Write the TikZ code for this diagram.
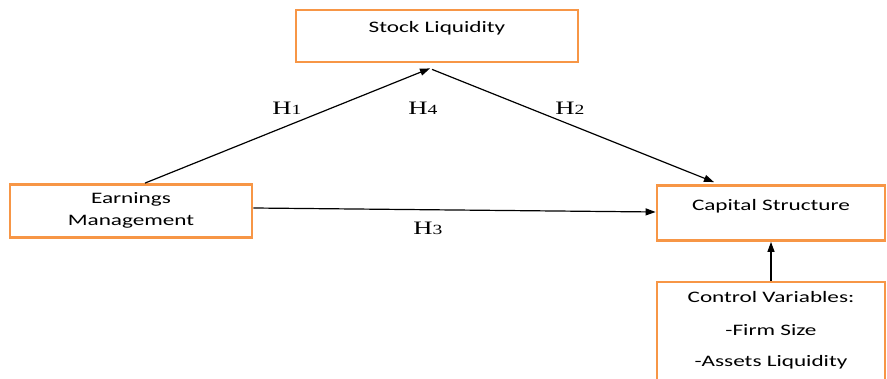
\documentclass[tikz,border=0pt]{standalone}
\usepackage{fontspec}
\setmainfont{Carlito}
\newfontfamily\hfont{Liberation Serif}
\usetikzlibrary{arrows.meta,calc}
\definecolor{boxorange}{RGB}{247,150,70}
\tikzset{
  box/.style={draw=boxorange, line width=2.8pt, rectangle, inner sep=0pt},
  boxtext/.style={font=\fontsize{16}{19}\selectfont, align=center, inner sep=0pt, xscale=1.45},
  conn/.style={line width=1.2pt, -{Triangle[length=10pt,width=7pt]}},
  hlabel/.style={font=\hfont\fontsize{19}{20}\selectfont, inner sep=0pt, xscale=1.4}
}
\newcommand{\hyp}[1]{H{\fontsize{14}{15}\selectfont #1}}
\begin{document}
\begin{tikzpicture}[x=1pt,y=-1pt]
\useasboundingbox (0,0) rectangle (887,379);
% boxes
\node[box, minimum width=282pt, minimum height=52pt] (sl) at (437,36) {};
\node[boxtext] (slt) at (437,28) {Stock Liquidity};
\node[box, minimum width=242pt, minimum height=53pt] (em) at (131,211) {};
\node[boxtext] (emt) at (131,199) {Earnings};
\node[boxtext] (emt2) at (131,222) {Management};
\node[box, minimum width=228pt, minimum height=55pt] (cs) at (771,213) {};
\node[boxtext] (cst) at (771,206) {Capital Structure};
\node[box, minimum width=228pt, minimum height=100pt] (cv) at (771,332) {};
\node[boxtext] (cv1) at (771,297) {Control Variables:};
\node[boxtext] (cv2) at (771,330) {-Firm Size};
\node[boxtext] (cv3) at (771,362) {-Assets Liquidity};
% connectors
\draw[conn] ($(em.north)+(14,0)$) -- ($(sl.south)+(-7,5)$);
\draw[conn] ($(sl.south)+(-5,6)$) -- ($(cs.north)+(-57,-2)$);
\draw[conn] ($(em.east)+(0,-3)$) -- ($(cs.west)+(0,-1)$);
\draw[conn] (cv.north) -- (cs.south);
% labels
\node[hlabel] (h1) at (287,108) {\hyp{1}};
\node[hlabel] (h4) at (423,108) {\hyp{4}};
\node[hlabel] (h2) at (570,108) {\hyp{2}};
\node[hlabel] (h3) at (428,228) {\hyp{3}};
\end{tikzpicture}
\end{document}
